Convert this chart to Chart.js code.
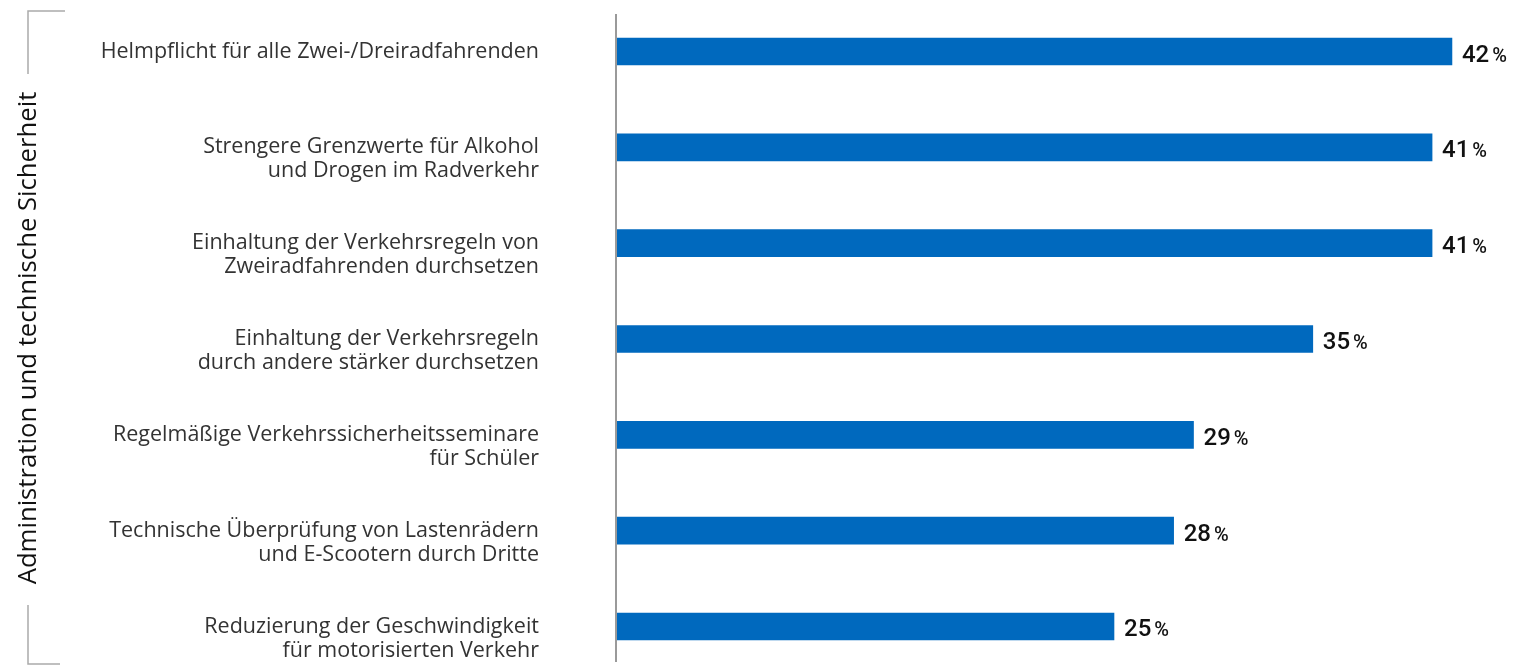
<!DOCTYPE html>
<html>
<head>
<meta charset="utf-8">
<script src="https://cdn.jsdelivr.net/npm/chart.js@4"></script>
<style>
    html, body { margin: 0; padding: 0; background: #fff; overflow: hidden; }
    #wrap { width: 1513px; height: 680px; }
</style>
</head>
<body>
<div id="wrap"><canvas id="measuresChart"></canvas></div>
<script>
// data
var categories = [
    'Helmpflicht für alle Zwei-/Dreiradfahrenden',
    ['', 'Strengere Grenzwerte für Alkohol', 'und Drogen im Radverkehr'],
    ['', 'Einhaltung der Verkehrsregeln von', 'Zweiradfahrenden durchsetzen'],
    ['', 'Einhaltung der Verkehrsregeln', 'durch andere stärker durchsetzen'],
    ['', 'Regelmäßige Verkehrssicherheitsseminare', 'für Schüler'],
    ['', 'Technische Überprüfung von Lastenrädern', 'und E-Scootern durch Dritte'],
    ['', 'Reduzierung der Geschwindigkeit', 'für motorisierten Verkehr']
];
var values = [42, 41, 41, 35, 29, 28, 25];
var groupLabel = 'Administration und technische Sicherheit';

var barColor = '#0069be';

// value labels: number + smaller percent sign
var valueLabels = {
    id: 'valueLabels',
    afterDatasetsDraw: function (chart) {
        var ctx = chart.ctx;
        var meta = chart.getDatasetMeta(0);
        ctx.save();
        ctx.textBaseline = 'alphabetic';
        ctx.fillStyle = '#111';
        meta.data.forEach(function (bar, i) {
            var x = bar.x + 10;
            var y = bar.y + 10;
            ctx.font = '500 24px Roboto';
            var num = String(values[i]);
            ctx.fillText(num, x, y);
            var w = ctx.measureText(num).width;
            ctx.font = '500 20px Roboto';
            ctx.fillText('%', x + w + 3, y);
        });
        ctx.restore();
    }
};

// zero line and the group bracket on the left
var decorations = {
    id: 'decorations',
    beforeDatasetsDraw: function (chart) {
        var ctx = chart.ctx;
        ctx.save();
        ctx.strokeStyle = '#9a9a9a';
        ctx.lineWidth = 2;
        ctx.beginPath();
        ctx.moveTo(616, 14);
        ctx.lineTo(616, 662);
        ctx.stroke();

        ctx.strokeStyle = '#aaaaaa';
        ctx.lineWidth = 1.5;
        ctx.beginPath();
        ctx.moveTo(65, 11);
        ctx.lineTo(28, 11);
        ctx.lineTo(28, 74);
        ctx.moveTo(28, 605);
        ctx.lineTo(28, 664);
        ctx.lineTo(60, 664);
        ctx.stroke();

        ctx.translate(36, 338);
        ctx.rotate(-Math.PI / 2);
        ctx.fillStyle = '#111';
        ctx.font = '500 25.7px "Open Sans"';
        ctx.textAlign = 'center';
        ctx.textBaseline = 'alphabetic';
        ctx.fillText(groupLabel, 0, 0);
        ctx.restore();
    }
};

var ctx = document.getElementById('measuresChart');
var chart = new Chart(ctx, {
    type: 'bar',
    data: {
        labels: categories,
        datasets: [{
            data: values,
            backgroundColor: barColor,
            barThickness: 27
        }]
    },
    options: {
        indexAxis: 'y',
        responsive: true,
        maintainAspectRatio: false,
        animation: false,
        layout: {
            padding: { top: 3.6, bottom: 5.6, left: 0, right: 21.3 }
        },
        plugins: {
            legend: { display: false },
            tooltip: { enabled: false }
        },
        scales: {
            x: {
                display: false,
                min: 0,
                max: 44
            },
            y: {
                grid: { display: false, drawTicks: false },
                border: { display: false },
                ticks: {
                    padding: 78,
                    color: '#333',
                    font: { family: '"Open Sans"', size: 21.5, lineHeight: '24px' }
                },
                afterFit: function (scale) {
                    scale.width = 617;
                    scale.paddingTop = 0;
                    scale.paddingBottom = 0;
                }
            }
        }
    },
    plugins: [decorations, valueLabels]
});
</script>
</body>
</html>
